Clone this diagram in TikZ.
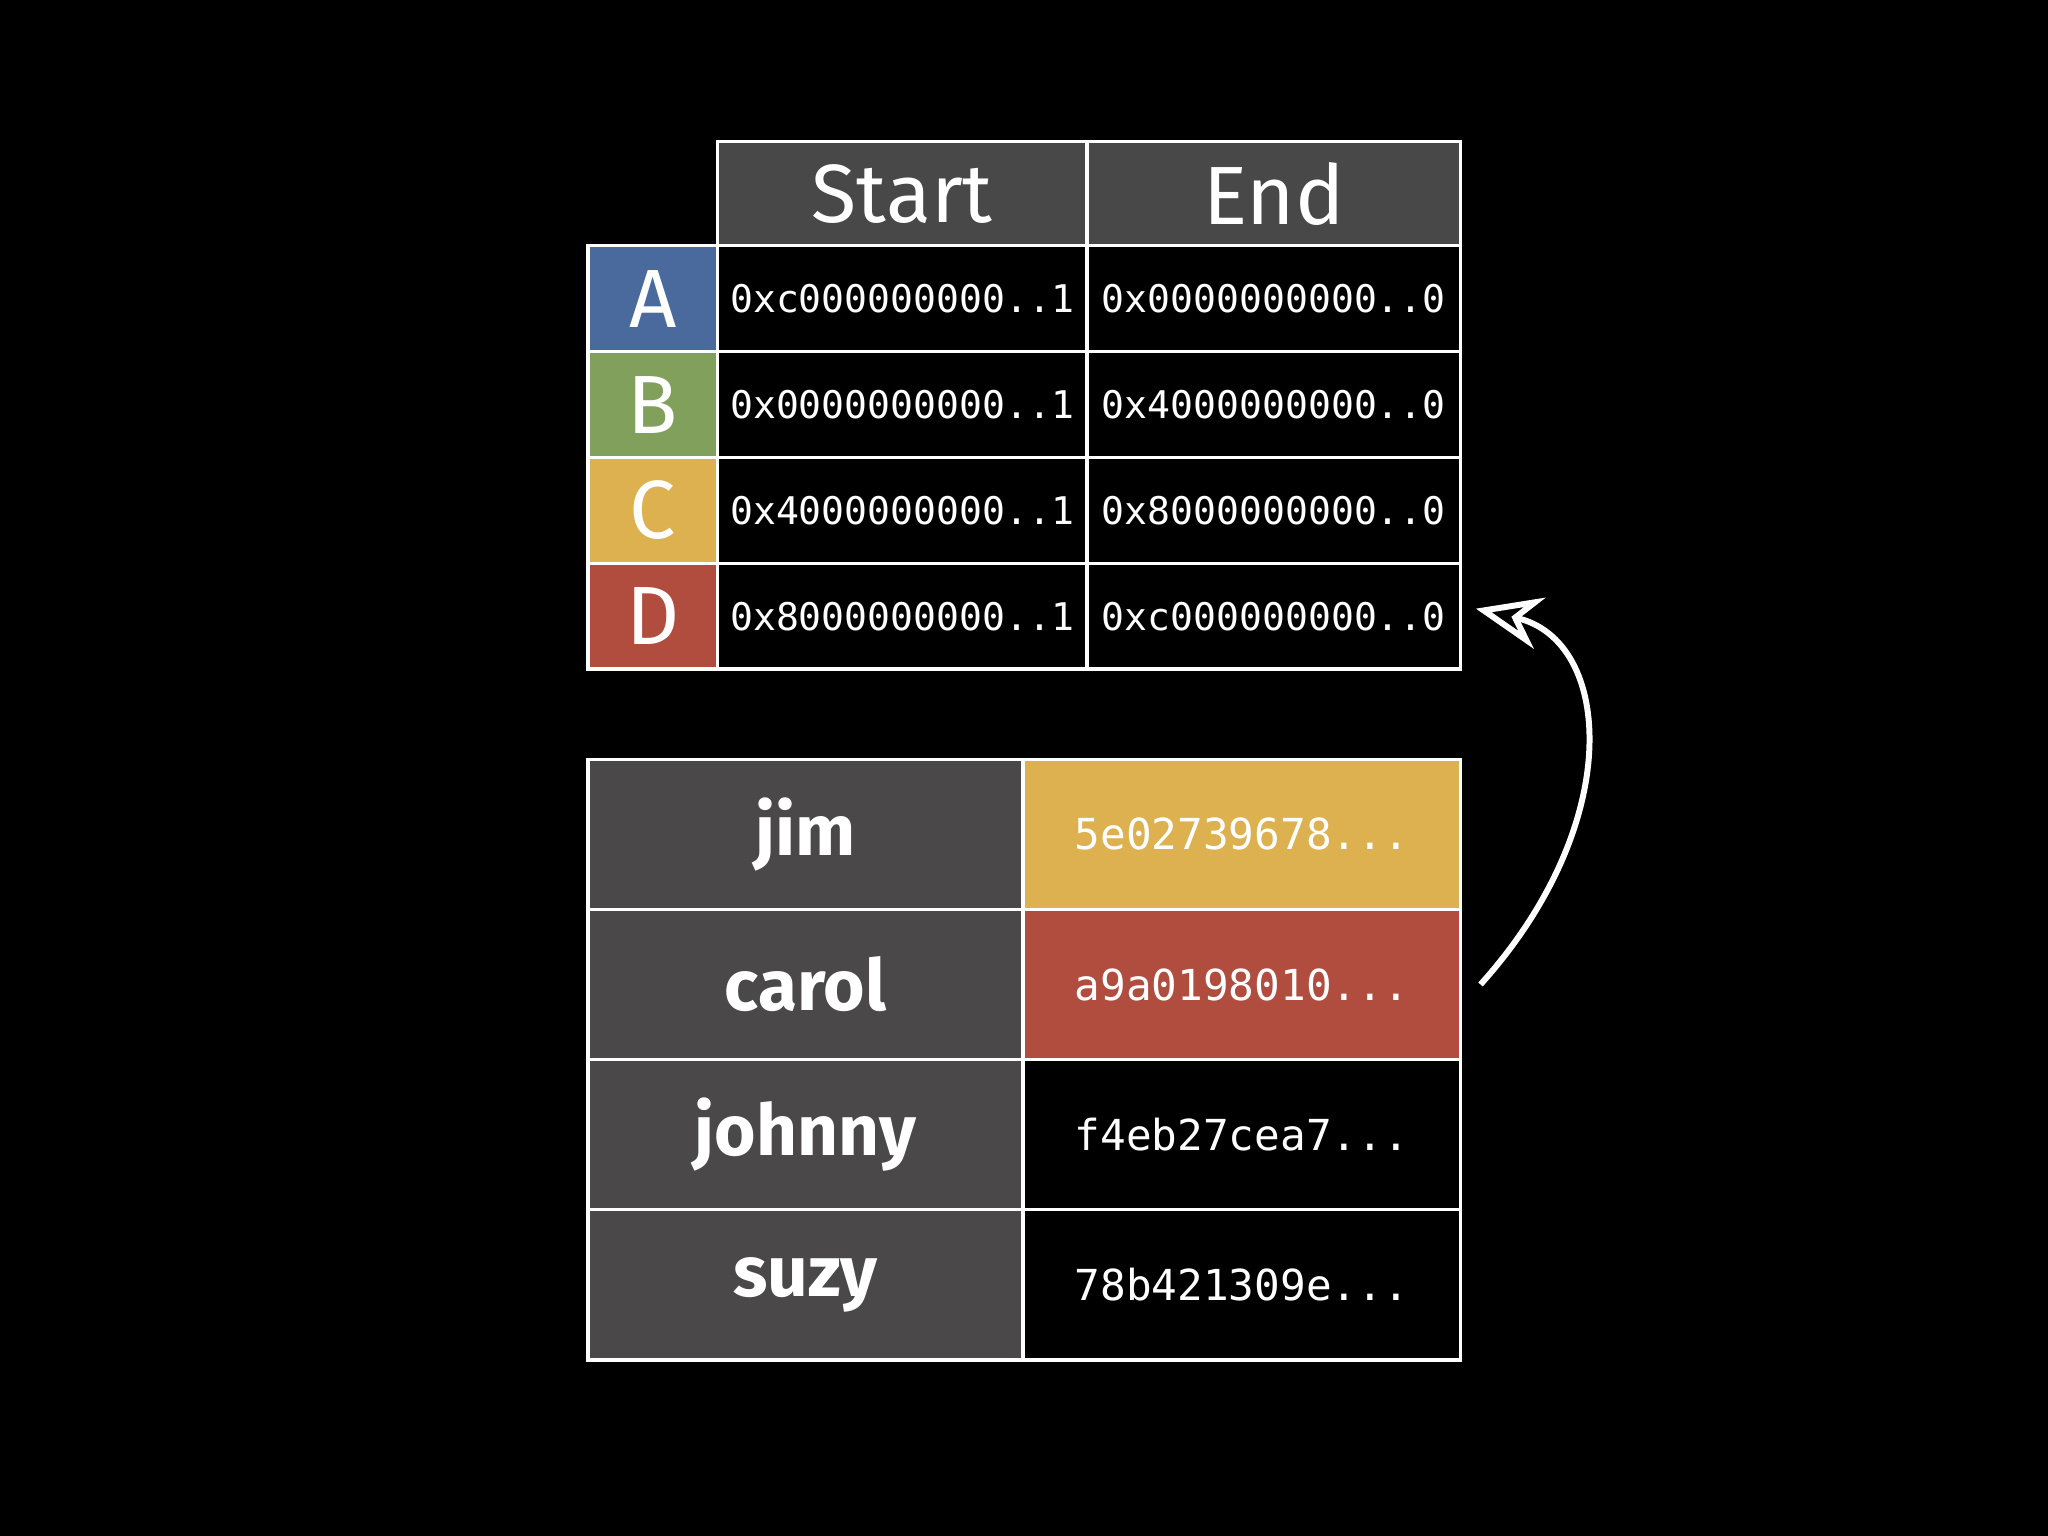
\documentclass[tikz,border=0pt]{standalone}
\usepackage{fontspec}
\usetikzlibrary{arrows.meta}
\setmainfont{Fira Sans}
\newfontfamily\monof{DejaVu Sans Mono}
\begin{document}
\begin{tikzpicture}[x=0.1mm,y=-0.1mm,
 cell/.style={draw=white,line width=0.7pt,minimum width=#1*0.1mm,inner sep=0pt,text=white,anchor=north west},
 hdr/.style={font=\fontsize{18}{20}\selectfont\mdseries},
 hx/.style={font=\monof\fontsize{8.3}{10}\selectfont},
 hh/.style={font=\monof\fontsize{9.3}{11}\selectfont},
 nm/.style={font=\fontsize{15.5}{17}\selectfont\bfseries}]
\definecolor{hg}{HTML}{484848}\definecolor{cA}{HTML}{4A6A9E}\definecolor{cB}{HTML}{80A05B}
\definecolor{cC}{HTML}{DDB14F}\definecolor{cD}{HTML}{B04D3E}\definecolor{ng}{HTML}{4A4849}
\fill[black] (0,0) rectangle (1568,1176);
\useasboundingbox (0,0) rectangle (1568,1176);
\node[cell=283,minimum height=8mm,fill=hg,hdr] (hs) at (548,107) {Start};
\node[cell=286,minimum height=8mm,fill=hg,hdr] (he) at (831,107) {End};
\foreach \L/\c/\s/\e [count=\i from 0] in {A/cA/{0xc000000000..1}/{0x0000000000..0},B/cB/{0x0000000000..1}/{0x4000000000..0},C/cC/{0x4000000000..1}/{0x8000000000..0},D/cD/{0x8000000000..1}/{0xc000000000..0}}{
 \node[cell=99,minimum height=8.1mm,fill=\c,hdr] (l\L) at (449,187+81*\i) {\L};
 \node[cell=283,minimum height=8.1mm,fill=black,hx] (s\L) at (548,187+81*\i) {\s};
 \node[cell=286,minimum height=8.1mm,fill=black,hx] (e\L) at (831,187+81*\i) {\e};
}
\foreach \n/\h/\c [count=\i from 0] in {jim/{5e02739678...}/cC,carol/{a9a0198010...}/cD,johnny/{f4eb27cea7...}/black,suzy/{78b421309e...}/black}{
 \node[cell=333,minimum height=11.5mm,fill=ng,nm] (n\n) at (449,580+115*\i) {\n};
 \node[cell=335,minimum height=11.5mm,fill=\c,hh] (h\n) at (782,580+115*\i) {\h};
}
\coordinate (tip) at (1130,466);
\draw[white,line width=1.3pt,-{Stealth[length=5mm,width=4mm,open,fill=black]}] ([xshift=4pt]hcarol.east) .. controls (1245,630) and (1235,490) .. (tip);
\end{tikzpicture}
\end{document}
